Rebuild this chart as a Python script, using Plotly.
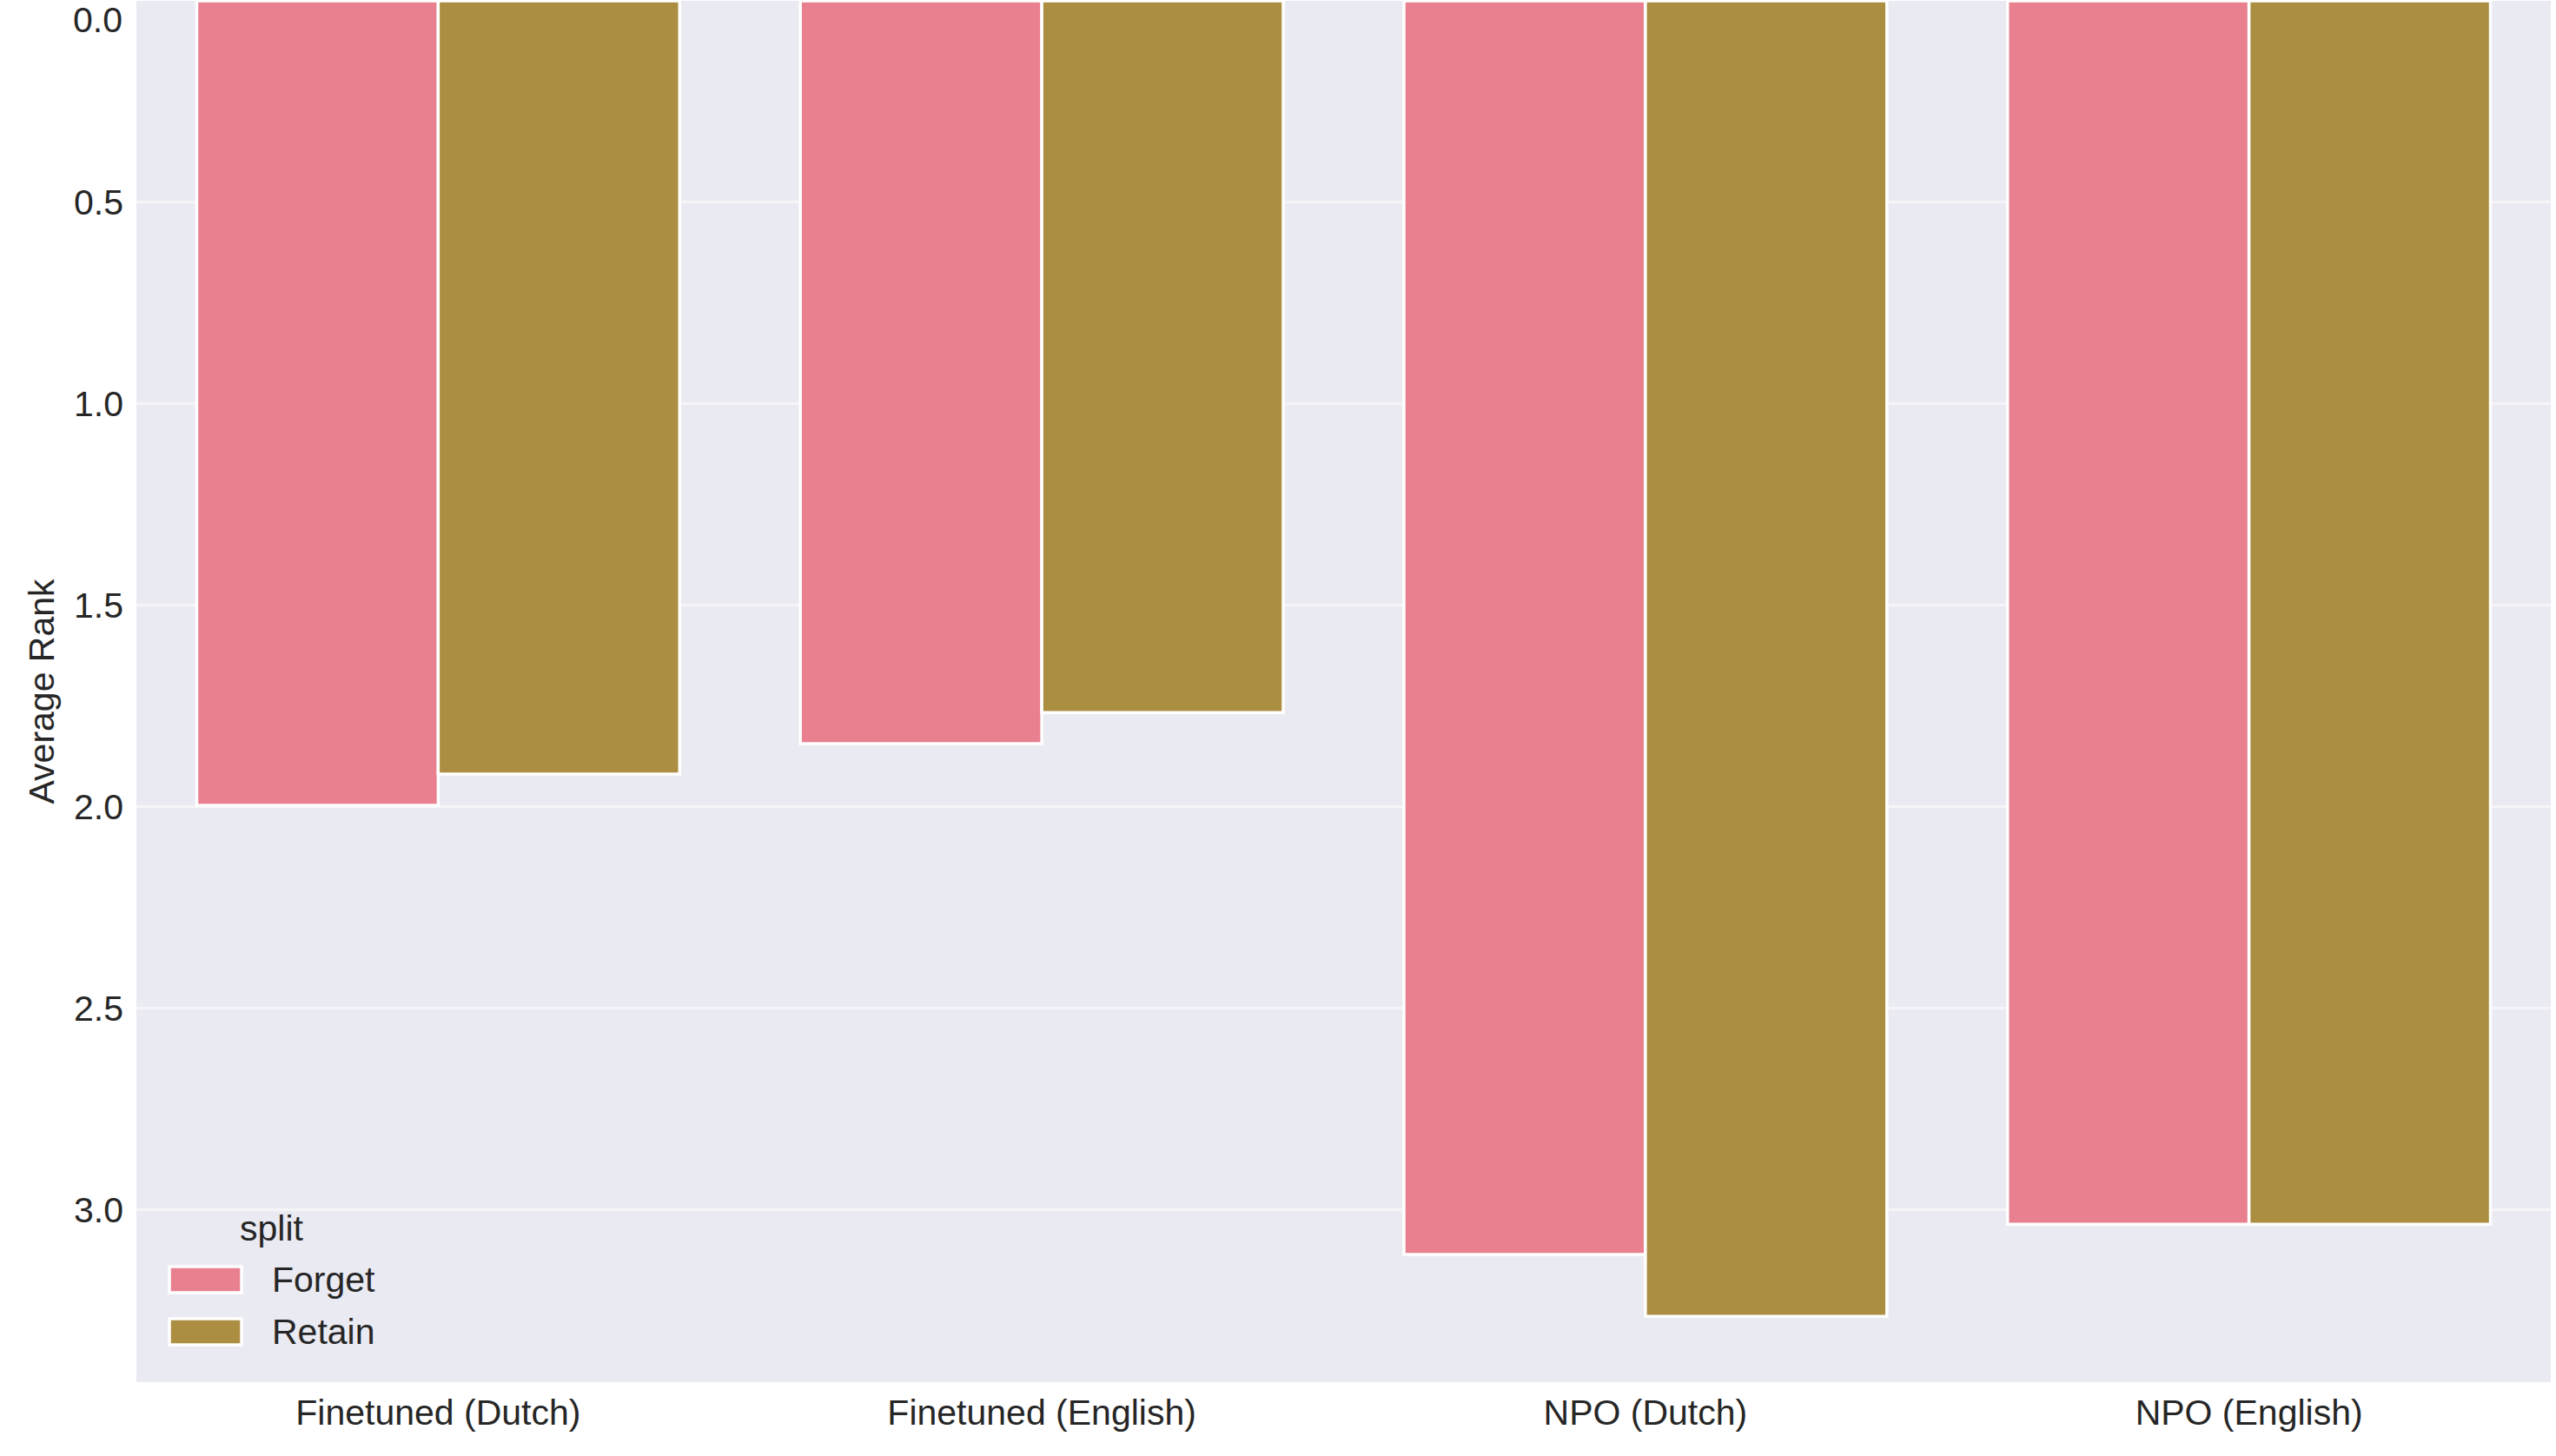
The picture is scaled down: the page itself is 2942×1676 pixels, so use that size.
import plotly.graph_objects as go

categories = ["Finetuned (Dutch)", "Finetuned (English)", "NPO (Dutch)", "NPO (English)"]
forget_vals = [1.996, 1.843, 3.110, 3.035]
retain_vals = [1.918, 1.766, 3.264, 3.035]
series_names = ["Forget", "Retain"]
colors = ["#E8808F", "#AB8E42"]
y_ticks = [0.5, 1.0, 1.5, 2.0, 2.5, 3.0]
y_tick_text = ["0.5", "1.0", "1.5", "2.0", "2.5", "3.0"]
top_tick_text = "0.0"

W, H = 2942, 1676
L, R, T, B = 157, 6, 1, 85
FONT = "Liberation Sans, Arial, sans-serif"
TXT = "#262626"

fig = go.Figure()
for name, vals, col in zip(series_names, [forget_vals, retain_vals], colors):
    fig.add_trace(go.Bar(
        x=categories, y=vals, name=name,
        marker=dict(color=col, line=dict(color="white", width=3.5)),
        showlegend=False,
    ))

pw = W - L - R
ph = H - T - B

def px_x(p):
    return (p - L) / pw

def px_y(p):
    return (H - B - p) / ph

shapes = []
annotations = []
# top tick label (sits at the very edge of the plot)
annotations.append(dict(text=top_tick_text, xref="paper", yref="paper", x=px_x(143), y=px_y(23),
                        xanchor="right", yanchor="middle", showarrow=False,
                        font=dict(family=FONT, size=41, color=TXT)))
# legend title
annotations.append(dict(text="split", xref="paper", yref="paper", x=px_x(313), y=px_y(1414),
                        xanchor="center", yanchor="middle", showarrow=False,
                        font=dict(family=FONT, size=41, color=TXT)))
for i, (name, col) in enumerate(zip(series_names, colors)):
    cy = 1473 + i * 60
    shapes.append(dict(type="rect", xref="paper", yref="paper",
                       x0=px_x(195), x1=px_x(278), y0=px_y(cy + 15), y1=px_y(cy - 15),
                       fillcolor=col, line=dict(color="white", width=3.5)))
    annotations.append(dict(text=name, xref="paper", yref="paper", x=px_x(311), y=px_y(cy),
                            xanchor="left", yanchor="middle", showarrow=False,
                            font=dict(family=FONT, size=41, color=TXT)))

fig.update_layout(
    width=W, height=H,
    margin=dict(l=L, r=R, t=T, b=B, autoexpand=False),
    paper_bgcolor="white", plot_bgcolor="#EAEAF2",
    barmode="group", bargap=0.2, bargroupgap=0,
    font=dict(family=FONT, size=41, color=TXT),
    shapes=shapes, annotations=annotations,
    showlegend=False,
)
fig.update_xaxes(
    type="category", range=[-0.5, 3.5], showgrid=False, zeroline=False,
    showline=False, ticks="", ticklabelstandoff=7,
    tickfont=dict(family=FONT, size=41, color=TXT),
)
fig.update_yaxes(
    range=[3.427, 0], tickvals=y_ticks, ticktext=y_tick_text,
    showgrid=True, gridcolor="#F5F5F8", gridwidth=3, zeroline=False,
    showline=False, ticks="", ticklabelstandoff=14,
    tickfont=dict(family=FONT, size=41, color=TXT),
    title=dict(text="Average Rank", font=dict(family=FONT, size=41, color=TXT), standoff=9),
)

fig.write_html("out.html")
